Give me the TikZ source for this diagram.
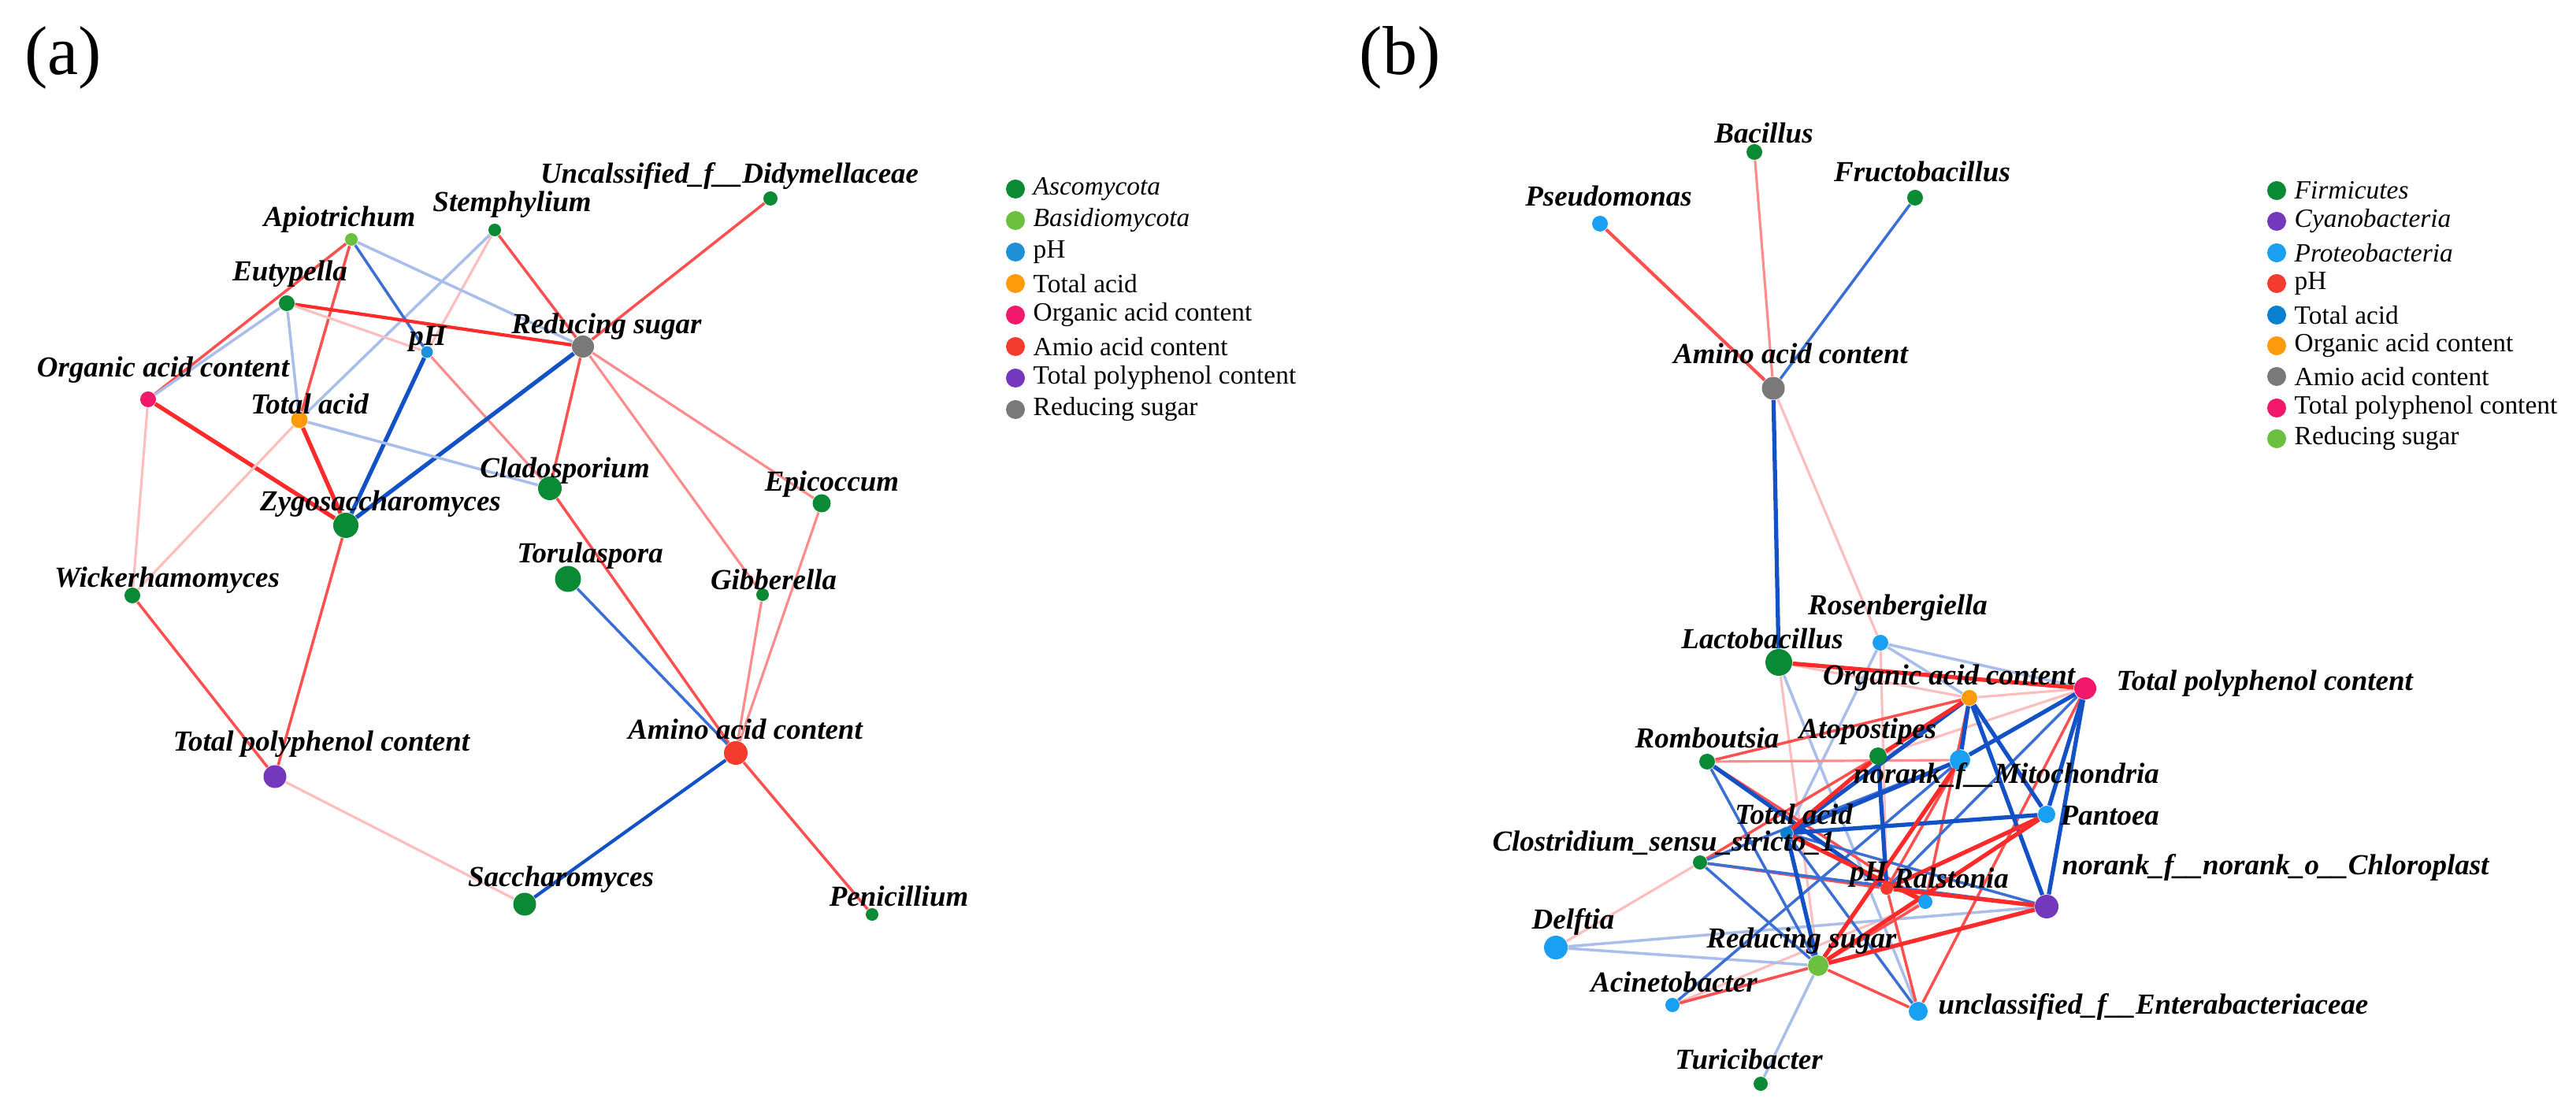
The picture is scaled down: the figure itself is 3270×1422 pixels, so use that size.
\documentclass[tikz,border=0pt]{standalone}
\usepackage{fontspec}
\setmainfont{Liberation Serif}
\pgfdeclarelayer{edges}
\pgfdeclarelayer{paper}
\pgfsetlayers{paper,edges,main}
\definecolor{cAsc}{HTML}{0B8A35}
\definecolor{cBas}{HTML}{6CC040}
\definecolor{cPHa}{HTML}{1E90D8}
\definecolor{cOra}{HTML}{FF9A0A}
\definecolor{cPnk}{HTML}{F2186C}
\definecolor{cAmi}{HTML}{F43C2E}
\definecolor{cPur}{HTML}{7438BC}
\definecolor{cGry}{HTML}{797979}
\definecolor{cPro}{HTML}{1AA0F2}
\definecolor{cTAb}{HTML}{0A80D0}
\definecolor{eR}{HTML}{FF2A2A}
\definecolor{eRm}{HTML}{FF5050}
\definecolor{eRl}{HTML}{FF8C8C}
\definecolor{eRf}{HTML}{FFBEBE}
\definecolor{eB}{HTML}{1352C6}
\definecolor{eBm}{HTML}{3C6FD3}
\definecolor{eBf}{HTML}{A9BEEA}
\tikzset{
  nd/.style={circle,fill=#1,draw=none,inner sep=0pt},
  lb/.style={font=\fontsize{10.5}{12}\selectfont\bfseries\itshape,inner sep=0pt},
  lg/.style={font=\fontsize{9.5}{11}\selectfont,anchor=west,inner sep=0pt},
  ldot/.style={circle,fill=#1,draw=none,inner sep=0pt,minimum size=0.24cm},
  pl/.style={font=\fontsize{25}{28}\selectfont,inner sep=0pt},
  rA/.style={draw=eR,line width=1.5pt},
  rB/.style={draw=eRm,line width=1.0pt},
  rC/.style={draw=eRl,line width=0.9pt},
  rD/.style={draw=eRf,line width=0.9pt},
  bA/.style={draw=eB,line width=1.5pt},
  bB/.style={draw=eBm,line width=1.0pt},
  bC/.style={draw=eBf,line width=1.0pt}
}
\begin{document}
\begin{tikzpicture}[x=0.01cm,y=-0.01cm]
\useasboundingbox (0,0) rectangle (3270,1422);
\begin{pgfonlayer}{paper}
\fill[white] (0,0) rectangle (3270,1422);
\end{pgfonlayer}
% panel labels
\node[pl] (pa) at (80,73) {(a)};
\node[pl] (pb) at (1777,73) {(b)};
% ===== panel (a) nodes
\node[nd=cAsc,minimum size=0.18cm] (uncl) at (978,252) {};
\node[nd=cBas,minimum size=0.16cm] (apio) at (446,304) {};
\node[nd=cAsc,minimum size=0.16cm] (stem) at (628,292) {};
\node[nd=cAsc,minimum size=0.20cm] (eut) at (364,385) {};
\node[nd=cPHa,minimum size=0.15cm] (pha) at (542,447) {};
\node[nd=cGry,minimum size=0.28cm] (rsa) at (740,440) {};
\node[nd=cPnk,minimum size=0.20cm] (orga) at (188,507) {};
\node[nd=cOra,minimum size=0.21cm] (taa) at (380,533) {};
\node[nd=cAsc,minimum size=0.30cm] (clado) at (698,620) {};
\node[nd=cAsc,minimum size=0.23cm] (epi) at (1043,639) {};
\node[nd=cAsc,minimum size=0.32cm] (zygo) at (439,667) {};
\node[nd=cAsc,minimum size=0.33cm] (toru) at (721,735) {};
\node[nd=cAsc,minimum size=0.20cm] (wick) at (168,756) {};
\node[nd=cAsc,minimum size=0.16cm] (gib) at (968,755) {};
\node[nd=cAmi,minimum size=0.30cm] (amia) at (934,956) {};
\node[nd=cPur,minimum size=0.29cm] (tpa) at (349,986) {};
\node[nd=cAsc,minimum size=0.29cm] (sacc) at (666,1148) {};
\node[nd=cAsc,minimum size=0.16cm] (peni) at (1107,1161) {};
% panel (a) labels
\node[lb] (l-uncl) at (926,223) {Uncalssified\_f\_\_Didymellaceae};
\node[lb] (l-apio) at (431,279) {Apiotrichum};
\node[lb] (l-stem) at (650,260) {Stemphylium};
\node[lb] (l-eut) at (368,348) {Eutypella};
\node[lb] (l-pha) at (543,430) {pH};
\node[lb] (l-rsa) at (770,415) {Reducing sugar};
\node[lb] (l-orga) at (207,470) {Organic acid content};
\node[lb] (l-taa) at (393,513) {Total acid};
\node[lb] (l-clado) at (717,598) {Cladosporium};
\node[lb] (l-epi) at (1056,615) {Epicoccum};
\node[lb] (l-zygo) at (483,640) {Zygosaccharomyces};
\node[lb] (l-toru) at (749,706) {Torulaspora};
\node[lb] (l-wick) at (212,737) {Wickerhamomyces};
\node[lb] (l-gib) at (982,736) {Gibberella};
\node[lb] (l-amia) at (946,926) {Amino acid content};
\node[lb] (l-tpa) at (408,945) {Total polyphenol content};
\node[lb] (l-sacc) at (712,1117) {Saccharomyces};
\node[lb] (l-peni) at (1141,1138) {Penicillium};
% panel (a) legend
\node[ldot=cAsc] (da1) at (1289,240) {};
\node[ldot=cBas] (da2) at (1289,280) {};
\node[ldot=cPHa] (da3) at (1289,320) {};
\node[ldot=cOra] (da4) at (1289,360) {};
\node[ldot=cPnk] (da5) at (1289,400) {};
\node[ldot=cAmi] (da6) at (1289,440) {};
\node[ldot=cPur] (da7) at (1289,480) {};
\node[ldot=cGry] (da8) at (1289,520) {};
\node[lg] (ta1) at (1311,240) {\itshape Ascomycota};
\node[lg] (ta2) at (1311,280) {\itshape Basidiomycota};
\node[lg] (ta3) at (1311,320) {pH};
\node[lg] (ta4) at (1311,360) {Total acid};
\node[lg] (ta5) at (1311,400) {Organic acid content};
\node[lg] (ta6) at (1311,440) {Amio acid content};
\node[lg] (ta7) at (1311,480) {Total polyphenol content};
\node[lg] (ta8) at (1311,520) {Reducing sugar};
% ===== panel (b) nodes
\node[nd=cPro,minimum size=0.20cm] (pseu) at (2031,284) {};
\node[nd=cAsc,minimum size=0.20cm] (bac) at (2227,193) {};
\node[nd=cAsc,minimum size=0.20cm] (fru) at (2431,251) {};
\node[nd=cGry,minimum size=0.29cm] (amb) at (2251,493) {};
\node[nd=cPro,minimum size=0.20cm] (ros) at (2387,816) {};
\node[nd=cAsc,minimum size=0.34cm] (lac) at (2258,841) {};
\node[nd=cOra,minimum size=0.20cm] (orgb) at (2500,886) {};
\node[nd=cPnk,minimum size=0.28cm] (tpb) at (2647,874) {};
\node[nd=cAsc,minimum size=0.20cm] (rom) at (2167,967) {};
\node[nd=cAsc,minimum size=0.22cm] (ato) at (2384,960) {};
\node[nd=cPro,minimum size=0.26cm] (mito) at (2488,965) {};
\node[nd=cTAb,minimum size=0.16cm] (tab) at (2268,1058) {};
\node[nd=cPro,minimum size=0.22cm] (pant) at (2598,1034) {};
\node[nd=cAsc,minimum size=0.18cm] (clos) at (2158,1095) {};
\node[nd=cAmi,minimum size=0.16cm] (phb) at (2395,1128) {};
\node[nd=cPro,minimum size=0.18cm] (ral) at (2444,1145) {};
\node[nd=cPur,minimum size=0.30cm] (chl) at (2598,1151) {};
\node[nd=cPro,minimum size=0.30cm] (del) at (1975,1203) {};
\node[nd=cBas,minimum size=0.26cm] (rsb) at (2308,1226) {};
\node[nd=cPro,minimum size=0.18cm] (aci) at (2123,1276) {};
\node[nd=cPro,minimum size=0.24cm] (unc) at (2435,1284) {};
\node[nd=cAsc,minimum size=0.18cm] (tur) at (2235,1376) {};
% panel (b) labels
\node[lb] (l-pseu) at (2042,249) {Pseudomonas};
\node[lb] (l-bac) at (2239,169) {Bacillus};
\node[lb] (l-fru) at (2440,218) {Fructobacillus};
\node[lb] (l-amb) at (2273,449) {Amino acid content};
\node[lb] (l-ros) at (2409,772) {Rosenbergiella};
\node[lb] (l-lac) at (2237,811) {Lactobacillus};
\node[lb] (l-orgb) at (2474,861) {Organic acid content};
\node[lb,anchor=west] (l-tpb) at (2686,868) {Total polyphenol content};
\node[lb] (l-rom) at (2167,937) {Romboutsia};
\node[lb] (l-ato) at (2371,929) {Atopostipes};
\node[lb] (l-mito) at (2547,985) {norank\_f\_\_Mitochondria};
\node[lb] (l-tab) at (2277,1034) {Total acid};
\node[lb,anchor=west] (l-pant) at (2615,1036) {Pantoea};
\node[lb] (l-clos) at (2112,1070) {Clostridium\_sensu\_stricto\_1};
\node[lb] (l-phb) at (2372,1110) {pH};
\node[lb] (l-ral) at (2477,1115) {Ralstonia};
\node[lb,anchor=west] (l-chl) at (2617,1101) {norank\_f\_\_norank\_o\_\_Chloroplast};
\node[lb] (l-del) at (1997,1170) {Delftia};
\node[lb] (l-rsb) at (2287,1195) {Reducing sugar};
\node[lb] (l-aci) at (2125,1247) {Acinetobacter};
\node[lb,anchor=west] (l-unc) at (2460,1278) {unclassified\_f\_\_Enterabacteriaceae};
\node[lb] (l-tur) at (2220,1345) {Turicibacter};
% panel (b) legend
\node[ldot=cAsc] (db1) at (2890,242) {};
\node[ldot=cPur] (db2) at (2890,281) {};
\node[ldot=cPro] (db3) at (2890,321) {};
\node[ldot=cAmi] (db4) at (2890,360) {};
\node[ldot=cTAb] (db5) at (2890,400) {};
\node[ldot=cOra] (db6) at (2890,439) {};
\node[ldot=cGry] (db7) at (2890,478) {};
\node[ldot=cPnk] (db8) at (2890,518) {};
\node[ldot=cBas] (db9) at (2890,557) {};
\node[lg] (tb1) at (2912,242) {\itshape Firmicutes};
\node[lg] (tb2) at (2912,281) {\itshape Cyanobacteria};
\node[lg] (tb3) at (2912,321) {\itshape Proteobacteria};
\node[lg] (tb4) at (2912,360) {pH};
\node[lg] (tb5) at (2912,400) {Total acid};
\node[lg] (tb6) at (2912,439) {Organic acid content};
\node[lg] (tb7) at (2912,478) {Amio acid content};
\node[lg] (tb8) at (2912,518) {Total polyphenol content};
\node[lg] (tb9) at (2912,557) {Reducing sugar};
% ===== edges
\begin{pgfonlayer}{edges}
% panel (a)
\draw[rB] (stem) -- (rsa);
\draw[bC] (stem) -- (taa);
\draw[rD] (stem) -- (pha);
\draw[rB] (uncl) -- (rsa);
\draw[rB] (apio) -- (orga);
\draw[bC] (eut) -- (orga);
\draw[rB] (apio) -- (taa);
\draw[bB] (apio) -- (pha);
\draw[bC] (apio) -- (rsa);
\draw[rA,line width=1.2pt] (eut) -- (rsa);
\draw[rD] (eut) -- (pha);
\draw[rC] (pha) -- (clado);
\draw[bA] (pha) -- (zygo);
\draw[bA] (rsa) -- (zygo);
\draw[bC] (taa) -- (clado);
\draw[rA] (taa) -- (zygo);
\draw[rA] (orga) -- (zygo);
\draw[rD] (orga) -- (wick);
\draw[rD] (taa) -- (wick);
\draw[bC] (eut) -- (taa);
\draw[rB] (rsa) -- (clado);
\draw[rC] (rsa) -- (gib);
\draw[rC] (rsa) -- (epi);
\draw[rC] (epi) -- (amia);
\draw[rC] (gib) -- (amia);
\draw[rB] (clado) -- (amia);
\draw[bB] (toru) -- (amia);
\draw[bA,line width=1.2pt] (amia) -- (sacc);
\draw[rB] (amia) -- (peni);
\draw[rB] (zygo) -- (tpa);
\draw[rB] (wick) -- (tpa);
\draw[rD] (tpa) -- (sacc);
% panel (b) upper
\draw[rB,line width=1.2pt] (pseu) -- (amb);
\draw[rC] (bac) -- (amb);
\draw[bB] (fru) -- (amb);
\draw[bA] (amb) -- (lac);
\draw[rD] (amb) -- (ros);
% panel (b) cluster, faint
\draw[rD] (lac) -- (orgb);
\draw[rD] (lac) -- (rsb);
\draw[rD] (ato) -- (tpb);
\draw[rD] (ros) -- (phb);
\draw[rD] (del) -- (clos);
\draw[rD] (tpb) -- (orgb);
\draw[rD] (aci) -- (ral);
\draw[bC] (ros) -- (tpb);
\draw[bC] (ros) -- (orgb);
\draw[bC] (ros) -- (tab);
\draw[bC] (lac) -- (unc);
\draw[bC] (del) -- (rsb);
\draw[bC] (del) -- (chl);
\draw[bC] (aci) -- (rsb);
\draw[bC] (rsb) -- (tur);
% medium
\draw[rB] (rsb) -- (ral);
\draw[rB] (phb) -- (mito);
\draw[rB] (rom) -- (ral);
\draw[rB] (rom) -- (orgb);
\draw[rB] (ato) -- (clos);
\draw[rB] (clos) -- (phb);
\draw[rB] (orgb) -- (ral);
\draw[rB] (tpb) -- (unc);
\draw[rB] (rsb) -- (unc);
\draw[rB] (rsb) -- (aci);
\draw[rB] (phb) -- (unc);
\draw[rC] (rom) -- (mito);
\draw[bB] (clos) -- (mito);
\draw[bB] (clos) -- (chl);
\draw[bB] (rom) -- (rsb);
\draw[bB] (mito) -- (rsb);
\draw[bB] (aci) -- (mito);
\draw[bB] (clos) -- (rsb);
\draw[bB] (tab) -- (chl);
\draw[bB] (unc) -- (tab);
\draw[bB] (tpb) -- (phb);
% thick
\draw[bA] (orgb) -- (mito);
\draw[bA] (orgb) -- (pant);
\draw[bA] (orgb) -- (chl);
\draw[bA] (orgb) -- (tab);
\draw[bA] (tpb) -- (pant);
\draw[bA] (tpb) -- (chl);
\draw[bA] (tpb) -- (mito);
\draw[bA] (tab) -- (mito);
\draw[bA] (tab) -- (pant);
\draw[bA] (ato) -- (phb);
\draw[bA] (rom) -- (phb);
\draw[bA] (tab) -- (rsb);
\draw[rA] (rsb) -- (mito);
\draw[rA] (rsb) -- (pant);
\draw[rA] (rsb) -- (chl);
\draw[rA] (phb) -- (pant);
\draw[rA] (phb) -- (chl);
\draw[rA] (ato) -- (tab);
\draw[rA] (lac) -- (tpb);
\draw[rA] (ato) -- (orgb);
\draw[rA] (ral) -- (tab);
\end{pgfonlayer}
\end{tikzpicture}
\end{document}
